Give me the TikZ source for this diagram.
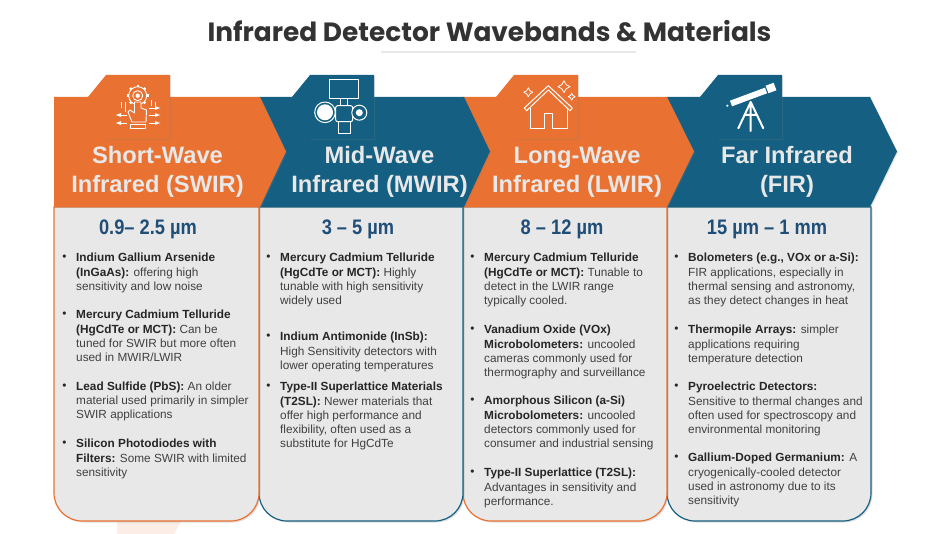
\documentclass[tikz,border=0pt]{standalone}
\usepackage{fontspec}
\setmainfont{Liberation Sans}
\newfontfamily\titlefont{Poppins}
\usetikzlibrary{shadows}

\definecolor{swirorange}{HTML}{E97132}
\definecolor{mwirblue}{HTML}{156082}
\definecolor{panelgray}{HTML}{E8E8E8}
\definecolor{headtext}{HTML}{E8E8E8}
\definecolor{rangeblue}{HTML}{1F4E79}
\definecolor{bodytext}{HTML}{404040}
\definecolor{boldtext}{HTML}{262626}

\tikzset{
	headshape/.style={draw=none, drop shadow={opacity=.22, shadow xshift=1pt, shadow yshift=-1pt}},
	panelshape/.style={fill=panelgray, line width=1.2pt, drop shadow={opacity=.25, shadow xshift=1.5pt, shadow yshift=-1.5pt}},
	headlabel/.style={align=center, text=headtext, font=\fontsize{23.7}{29}\selectfont\bfseries},
	rangelabel/.style={text=rangeblue, font=\fontsize{21}{25}\selectfont\bfseries\addfontfeature{FakeStretch=.87}},
	matlabel/.style={anchor=north west, inner sep=0pt, align=left, text=bodytext, font=\fontsize{11.8}{14.3}\selectfont},
	matbullet/.style={inner sep=0pt, text=boldtext, font=\fontsize{11.8}{14.3}\selectfont},
	iconline/.style={draw=white, line width=1pt, line join=round},
	iconthick/.style={draw=white, line width=2pt, line cap=round, line join=round}
}

% one bullet and its text: name, x, y of first line, text
\newcommand{\matitem}[4]{
	\node[matbullet] (#1b) at (#2-11.5,#3+1) {•};
	\node[matlabel] (#1) at (#2,#3-4) {#4};
}
% sparkle of the house icon
\newcommand{\sparkle}[3]{
	\draw[iconline, line width=.8pt] (#1,#2-#3) -- (#1+.35*#3,#2-.35*#3) -- (#1+#3,#2) -- (#1+.35*#3,#2+.35*#3) -- (#1,#2+#3) -- (#1-.35*#3,#2+.35*#3) -- (#1-#3,#2) -- (#1-.35*#3,#2-.35*#3) -- cycle;
}

\begin{document}
\begin{tikzpicture}[x=1pt, y=-1pt]
	\useasboundingbox (0,0) rectangle (943,534);

	% title
	\node[text=black!80, font=\fontsize{26.4}{32}\selectfont\titlefont\bfseries] (title) at (489.5,31) {Infrared Detector Wavebands \& Materials};
	\fill[black!9] (381,51) rectangle (636,53);
	\fill[swirorange!12] (117,521) -- (117,534) -- (174,534) -- (181,521) -- cycle;

	% panels, right one first
	\draw[panelshape, draw=mwirblue] (667,207) -- (871,207) -- (871,493) arc (0:90:28) -- (695,521) arc (90:180:28) -- cycle;
	\draw[panelshape, draw=swirorange] (463,207) -- (667,207) -- (667,493) arc (0:90:28) -- (491,521) arc (90:180:28) -- cycle;
	\draw[panelshape, draw=mwirblue] (259,207) -- (463,207) -- (463,493) arc (0:90:28) -- (287,521) arc (90:180:28) -- cycle;
	\draw[panelshape, draw=swirorange] (54,207) -- (259,207) -- (259,493) arc (0:90:28) -- (82,521) arc (90:180:28) -- cycle;

	% headers
	\fill[headshape, mwirblue] (667,97) -- (870,97) -- (897,151.5) -- (870,207) -- (667,207) -- cycle;
	\fill[headshape, swirorange] (463,97) -- (667,97) -- (694,151.5) -- (667,207) -- (463,207) -- cycle;
	\fill[headshape, mwirblue] (259,97) -- (464,97) -- (490,151.5) -- (464,207) -- (259,207) -- cycle;
	\fill[headshape, swirorange] (54,97) -- (260,97) -- (286,151.5) -- (260,207) -- (54,207) -- cycle;

	% tabs
	\foreach \tabx/\tabcol in {88/swirorange, 292/mwirblue, 496/swirorange, 700/mwirblue}
		\fill[headshape, \tabcol] (\tabx,97) -- (\tabx+18,75) -- (\tabx+82,75) -- (\tabx+82,139) -- (\tabx+18,139) -- cycle;

	% gear and hand icon
	\draw[iconline, line width=.9pt] (137.7,95.7) circle (9) (137.7,95.7) circle (5);
	\foreach \ang in {0,45,...,315}
		\draw[iconline, line width=2.4pt] (137.7,95.7) ++(\ang:9) -- ++(\ang:1.8);
	\fill[white] (137.7,95.7) circle (2.2);
	\draw[iconline, fill=swirorange, line width=.9pt] (134.5,102) -- (134.5,113) -- (130,110) -- (128,112) -- (132,122) -- (146,122) -- (146.5,110) -- (141,108) -- (141,102) -- cycle;
	\draw[iconline, line width=.9pt] (130,124) rectangle (145,128.5);
	\foreach \arry in {115,123}
		\draw[iconline, line width=.9pt, -latex] (127,\arry) -- (115.5,\arry);
	\foreach \arry in {108,115,123}
		\draw[iconline, line width=.9pt, -latex] (149,\arry) -- (160.5,\arry);
	\draw[iconline, line width=.9pt] (125,102) -- (125,112) (121,102) -- (121,108) (151,100) -- (151,106) (155,102) -- (155,108);

	% camera icon
	\draw[iconline] (329.3,80) rectangle (358.3,99);
	\draw[iconline] (340.7,99) rectangle (347.3,105.7);
	\draw[iconline, rounded corners=2pt] (335.7,105.7) rectangle (352.7,121.7);
	\draw[iconline] (338.3,121.7) rectangle (350,133.3);
	\draw[iconline, fill=mwirblue] (325,112.3) circle (10.3);
	\fill[white] (325,112.3) circle (8);
	\draw[iconline, fill=mwirblue] (359.3,112.7) circle (7.5);
	\fill[white] (359.3,112.7) circle (3.5);

	% house icon
	\draw[iconline] (548.3,85.7) -- (572.3,108) -- (570,110.7) -- (548.3,90) -- (526.6,110.7) -- (524.3,108) -- cycle;
	\draw[iconline] (530.7,108) -- (530.7,128.3) -- (544,128.3) -- (544,113.3) -- (552.7,113.3) -- (552.7,128.3) -- (567.3,128.3) -- (567.3,108);
	\sparkle{528.3}{92.3}{4.5}
	\sparkle{564}{86.7}{6}
	\sparkle{571.7}{96.7}{3.5}

	% telescope icon
	\draw[iconthick, line width=6pt, line cap=butt] (731,103.5) -- (766,90.5);
	\draw[iconthick, line width=8pt, line cap=butt] (767,89.5) -- (775,86.5);
	\fill[white] (727.3,105.7) circle (1.2);
	\draw[iconthick] (750.7,102) -- (738.3,128.3) (750.7,102) -- (763.3,128.3) (750.7,102) -- (750.7,131) (744.5,115) -- (757,115);

	% header texts
	\node[headlabel] (swirhead) at (157.5,172) {Short-Wave\\Infrared (SWIR)};
	\node[headlabel] (mwirhead) at (379.5,172) {Mid-Wave\\Infrared (MWIR)};
	\node[headlabel] (lwirhead) at (577,172) {Long-Wave\\Infrared (LWIR)};
	\node[headlabel] (firhead) at (787,172) {Far Infrared\\(FIR)};

	% wavebands
	\node[rangelabel] (swirrange) at (148,229) {0.9– 2.5 µm};
	\node[rangelabel] (mwirrange) at (358,229) {3 – 5 µm};
	\node[rangelabel] (lwirrange) at (562,229) {8 – 12 µm};
	\node[rangelabel] (firrange) at (767,229) {15 µm – 1 mm};

	% SWIR materials
	\matitem{swira}{76}{257}{\textcolor{boldtext}{\textbf{Indium Gallium Arsenide}}\\\textcolor{boldtext}{\textbf{(InGaAs):}} offering high\\sensitivity and low noise}
	\matitem{swirb}{76}{314}{\textcolor{boldtext}{\textbf{Mercury Cadmium Telluride}}\\\textcolor{boldtext}{\textbf{(HgCdTe or MCT):}} Can be\\tuned for SWIR but more often\\used in MWIR/LWIR}
	\matitem{swirc}{76}{385.5}{\textcolor{boldtext}{\textbf{Lead Sulfide (PbS):}} An older\\material used primarily in simpler\\SWIR applications}
	\matitem{swird}{76}{443}{\textcolor{boldtext}{\textbf{Silicon Photodiodes with}}\\\textcolor{boldtext}{\textbf{Filters:}} Some SWIR with limited\\sensitivity}

	% MWIR materials
	\matitem{mwira}{280}{257}{\textcolor{boldtext}{\textbf{Mercury Cadmium Telluride}}\\\textcolor{boldtext}{\textbf{(HgCdTe or MCT):}} Highly\\tunable with high sensitivity\\widely used}
	\matitem{mwirb}{280}{336}{\textcolor{boldtext}{\textbf{Indium Antimonide (InSb):}}\\High Sensitivity detectors with\\lower operating temperatures}
	\matitem{mwirc}{280}{386}{\textcolor{boldtext}{\textbf{Type-II Superlattice Materials}}\\\textcolor{boldtext}{\textbf{(T2SL):}} Newer materials that\\offer high performance and\\flexibility, often used as a\\substitute for HgCdTe}

	% LWIR materials
	\matitem{lwira}{484}{257}{\textcolor{boldtext}{\textbf{Mercury Cadmium Telluride}}\\\textcolor{boldtext}{\textbf{(HgCdTe or MCT):}} Tunable to\\detect in the LWIR range\\typically cooled.}
	\matitem{lwirb}{484}{329}{\textcolor{boldtext}{\textbf{Vanadium Oxide (VOx)}}\\\textcolor{boldtext}{\textbf{Microbolometers:}} uncooled\\cameras commonly used for\\thermography and surveillance}
	\matitem{lwirc}{484}{400}{\textcolor{boldtext}{\textbf{Amorphous Silicon (a-Si)}}\\\textcolor{boldtext}{\textbf{Microbolometers:}} uncooled\\detectors commonly used for\\consumer and industrial sensing}
	\matitem{lwird}{484}{472}{\textcolor{boldtext}{\textbf{Type-II Superlattice (T2SL):}}\\Advantages in sensitivity and\\performance.}

	% FIR materials
	\matitem{fira}{688}{257}{\textcolor{boldtext}{\textbf{Bolometers (e.g., VOx or a-Si):}}\\FIR applications, especially in\\thermal sensing and astronomy,\\as they detect changes in heat}
	\matitem{firb}{688}{329}{\textcolor{boldtext}{\textbf{Thermopile Arrays:}} simpler\\applications requiring\\temperature detection}
	\matitem{firc}{688}{386}{\textcolor{boldtext}{\textbf{Pyroelectric Detectors:}}\\Sensitive to thermal changes and\\often used for spectroscopy and\\environmental monitoring}
	\matitem{fird}{688}{457}{\textcolor{boldtext}{\textbf{Gallium-Doped Germanium:}} A\\cryogenically-cooled detector\\used in astronomy due to its\\sensitivity}
\end{tikzpicture}
\end{document}
